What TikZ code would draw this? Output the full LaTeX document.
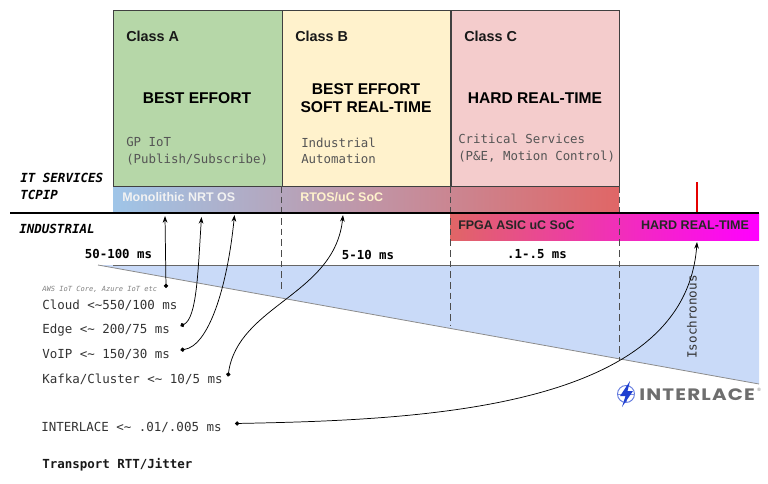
\documentclass[tikz,border=0pt]{standalone}
\usepackage{fontspec}
\setmainfont{Liberation Sans}
\setmonofont{DejaVu Sans Mono}
\newfontfamily\logofont[LetterSpace=6]{Poppins}
\usetikzlibrary{arrows.meta}
\definecolor{clsA}{HTML}{B6D7A8}
\definecolor{clsB}{HTML}{FFF2CC}
\definecolor{clsC}{HTML}{F4CCCC}
\definecolor{barblue}{HTML}{9FC5E8}
\definecolor{barred}{HTML}{E06666}
\definecolor{wedge}{HTML}{C9DAF8}
\definecolor{rowtext}{HTML}{333333}
\definecolor{softtext}{HTML}{555555}
\definecolor{logogray}{HTML}{6E6E6E}
\definecolor{logoblue}{HTML}{1F3FD0}
\tikzset{
  x=0.75pt,y=-0.75pt,
  every node/.append style={inner sep=0pt},
  classbox/.style={draw=black!75,line width=0.6pt,minimum width=126.4pt,minimum height=132pt,anchor=north west},
  classname/.style={anchor=west,font=\bfseries\fontsize{10.8pt}{12pt}\selectfont,text=black!90},
  headline/.style={align=center,font=\bfseries\fontsize{11.7pt}{13.4pt}\selectfont,text=black},
  softnote/.style={anchor=west,align=left,font=\ttfamily\fontsize{9.3pt}{12.4pt}\selectfont,text=softtext},
  barlabel/.style={anchor=west,font=\bfseries\fontsize{9.35pt}{11pt}\selectfont},
  sidelabel/.style={anchor=west,font=\ttfamily\bfseries\itshape\fontsize{9.4pt}{11pt}\selectfont},
  rangelabel/.style={font=\ttfamily\bfseries\fontsize{9.3pt}{11pt}\selectfont},
  rowlabel/.style={anchor=west,font=\ttfamily\fontsize{9.36pt}{11pt}\selectfont,text=rowtext},
  divider/.style={dashed,dash pattern=on 5pt off 3pt,draw=black!70,line width=0.6pt},
  pointer/.style={draw=black,line width=0.55pt,{Circle[length=3.2pt]}-{Stealth[length=5pt,width=3.5pt]}},
}
\begin{document}
\begin{tikzpicture}
\useasboundingbox (0,0) rectangle (768,483);
% wedge
\fill[wedge] (98,265) -- (759,265) -- (759,384) -- cycle;
\draw[black!45,line width=0.6pt] (98,265) -- (759,384);
\draw[black!60,line width=0.6pt] (113,265) -- (759,265);
% classes
\node[classbox,fill=clsA] (classA) at (113,10) {};
\node[classbox,fill=clsB] (classB) at (281.5,10) {};
\node[classbox,fill=clsC] (classC) at (450.5,10) {};
\node[classname] (nameA) at (126,36) {Class A};
\node[classname] (nameB) at (295,36) {Class B};
\node[classname] (nameC) at (464,36) {Class C};
\node[headline] (headA) at (197,98) {BEST EFFORT};
\node[headline] (headB) at (366,98) {BEST EFFORT\\SOFT REAL-TIME};
\node[headline] (headC) at (535,98) {HARD REAL-TIME};
\node[softnote] (noteA) at (126,151) {GP IoT\\(Publish/Subscribe)};
\node[softnote] (noteB) at (301,151) {Industrial\\Automation};
\node[softnote] (noteC) at (458,148) {Critical Services\\(P\&E, Motion Control)};
% bars
\shade[left color=barblue,right color=barred] (113,187) rectangle (619,213);
\shade[left color=barred,right color=magenta] (450,213) rectangle (759,240);
\node[barlabel,text=white!95!black] (monolith) at (122,197) {Monolithic NRT OS};
\node[barlabel,text=clsB] (rtos) at (300,197) {RTOS/uC SoC};
\node[barlabel,text=black!85] (fpga) at (458,225) {FPGA ASIC uC SoC};
\node[barlabel,text=black!85,anchor=center,font=\bfseries\fontsize{9.4pt}{11pt}\selectfont] (hard) at (695,225) {HARD REAL-TIME};
% dividers
\draw[divider] (281.5,186) -- (281.5,291);
\draw[divider] (450,186) -- (450,325);
\draw[divider] (619,186) -- (619,360);
% main rule and tick
\draw[black,line width=1.6pt] (10,213) -- (759,213);
\draw[red!90!black,line width=1.6pt] (697,182) -- (697,212);
% side labels
\node[sidelabel] (itserv) at (20,178) {IT SERVICES};
\node[sidelabel] (tcpip) at (20,195) {TCPIP};
\node[sidelabel] (industrial) at (19,229) {INDUSTRIAL};
% ranges
\node[rangelabel] (r50) at (118.5,254) {50-100 ms};
\node[rangelabel] (r5) at (368,255) {5-10 ms};
\node[rangelabel] (r1) at (537,254) {.1-.5 ms};
% rows
\node[anchor=west,font=\ttfamily\itshape\fontsize{5.3pt}{6pt}\selectfont,text=black!50] (aws) at (42,289.5) {AWS IoT Core, Azure IoT etc};
\node[rowlabel] (cloud) at (42,305) {Cloud <\textasciitilde 550/100 ms};
\node[rowlabel] (edge) at (42,330) {Edge <\textasciitilde{} 200/75 ms};
\node[rowlabel] (voip) at (42,354) {VoIP <\textasciitilde{} 150/30 ms};
\node[rowlabel] (kafka) at (42,379) {Kafka/Cluster <\textasciitilde{} 10/5 ms};
\node[rowlabel] (interlace) at (41,427) {INTERLACE <\textasciitilde{} .01/.005 ms};
\node[anchor=west,font=\ttfamily\bfseries\fontsize{9.35pt}{11pt}\selectfont,text=black!90] (transport) at (42,465) {Transport RTT/Jitter};
% isochronous
\node[rotate=90,font=\fontsize{9.45pt}{11pt}\selectfont\ttfamily,text=rowtext] (iso) at (692,317) {Isochronous};
% connector ends
\coordinate (d1) at (166,288);
\coordinate (u1) at (165,216);
\coordinate (d2) at (180.5,326);
\coordinate (u2) at (201.5,217);
\coordinate (d3) at (180.5,350);
\coordinate (u3) at (234.5,215);
\coordinate (d4) at (228,376.5);
\coordinate (u4) at (343,215);
\coordinate (d5) at (235,423.5);
\coordinate (u5) at (697,242);
\draw[pointer] (d1) -- (u1);
\draw[pointer] (d2) .. controls (197,318) and (198,270) .. (u2);
\draw[pointer] (d3) .. controls (208,346) and (227,290) .. (u3);
\draw[pointer] (d4) .. controls (238,305) and (335,295) .. (u4);
\draw[pointer] (d5) .. controls (420,420) and (685,410) .. (u5);
% logo
\draw[logoblue!70!white,line width=0.7pt] (626,394) circle (8.5);
\draw[logoblue!60!white,line width=0.4pt] (617.5,394) -- (634.5,394) (626,385.5) -- (626,402.5);
\fill[logoblue] (630,381) -- (620,396) -- (625.5,396) -- (622,407) -- (633,391) -- (627.5,391) -- cycle;
\node[anchor=west,font=\logofont\bfseries\fontsize{12.4pt}{14pt}\selectfont,text=logogray,xscale=1.2] (logo) at (639,394.5) {INTERLACE};
\node[anchor=west,font=\fontsize{3.5pt}{4pt}\selectfont,text=logogray] (reg) at (757,390) {®};
\end{tikzpicture}
\end{document}
